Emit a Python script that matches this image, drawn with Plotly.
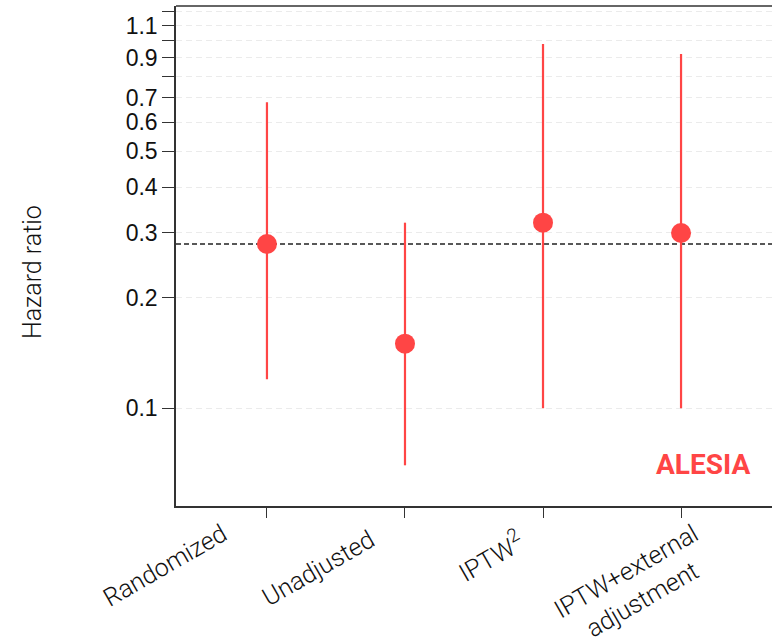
import plotly.graph_objects as go

# Hazard ratio estimates with 95% confidence limits by analysis method
methods = ["Randomized", "Unadjusted", "IPTW2", "IPTW+external adjustment"]
method_labels = [
    "Randomized",
    "Unadjusted",
    "IPTW<sup><span style='font-size:19px'>2</span></sup>",
    "IPTW+external<br>adjustment",
]
hr = [0.28, 0.15, 0.32, 0.30]
ci_low = [0.12, 0.07, 0.10, 0.10]
ci_high = [0.68, 0.32, 0.98, 0.92]
reference_hr = 0.28

tick_vals = [0.1, 0.2, 0.3, 0.4, 0.5, 0.6, 0.7, 0.8, 0.9, 1.0, 1.1, 1.2]
tick_text = ["0.1", "0.2", "0.3", "0.4", "0.5", "0.6", "0.7", "", "0.9", "", "1.1", ""]

# label placement (pixel offsets from each category tick / bottom of plot)
label_shift_x = [-102, -87, -53, -47]
label_shift_y = [-59, -62, -49, -80]

RED = "#ff4545"
W, H = 772, 644
L, R, T, B = 176, 0, 6, 138

fig = go.Figure()

fig.add_trace(go.Scatter(
    x=methods, y=hr, mode="markers",
    marker=dict(size=20, color=RED, line=dict(width=0)),
    error_y=dict(
        type="data", symmetric=False,
        array=[h - e for h, e in zip(ci_high, hr)],
        arrayminus=[e - l for e, l in zip(hr, ci_low)],
        color=RED, thickness=2.2, width=0,
    ),
    showlegend=False,
    hoverinfo="skip",
))

# reference line at the randomized estimate
fig.add_shape(type="line", xref="paper", x0=0, x1=1, yref="y",
              y0=reference_hr, y1=reference_hr,
              line=dict(color="#222222", width=1.3, dash="5px,3px"), layer="below")

# top border of the panel
fig.add_shape(type="line", xref="paper", x0=0, x1=1, yref="paper", y0=1, y1=1,
              line=dict(color="#333333", width=1.5))

for name, lab, dx, dy in zip(methods, method_labels, label_shift_x, label_shift_y):
    fig.add_annotation(
        x=name, xref="x", y=0, yref="paper",
        xshift=dx, yshift=dy,
        text=lab, textangle=-30, showarrow=False,
        xanchor="center", yanchor="middle", align="center",
        font=dict(family="Roboto", size=25, color="#111111", weight=300),
    )

fig.add_annotation(
    x=(32 - L) / (W - L - R), xref="paper",
    y=(H - B - 272) / (H - T - B), yref="paper",
    text="Hazard ratio", textangle=-90, showarrow=False,
    xanchor="center", yanchor="middle",
    font=dict(family="Roboto", size=25, color="#111111", weight=300),
)

fig.add_annotation(
    x=1, xref="paper", xshift=-20, y=(H - B - 464) / (H - T - B), yref="paper",
    text="<b>ALESIA</b>", showarrow=False, xanchor="right", yanchor="middle",
    font=dict(family="Roboto", size=28, color=RED),
)

fig.update_xaxes(
    type="category", range=[-0.659, 3.659],
    showticklabels=False, ticks="outside", ticklen=10, tickwidth=1.2, tickcolor="#333333",
    showline=True, linecolor="#333333", linewidth=1.5,
    showgrid=False, zeroline=False,
)
fig.update_yaxes(
    type="log", range=[-1.2656, 0.0946],
    tickvals=tick_vals, ticktext=tick_text,
    ticks="outside", ticklen=12, tickwidth=1.3, tickcolor="#333333",
    tickfont=dict(family="Liberation Sans", size=23, color="#111111"),
    showline=True, linecolor="#333333", linewidth=1.5,
    showgrid=True, gridcolor="#ebebeb", griddash="6px,4px", gridwidth=1,
    zeroline=False,
)

fig.update_layout(
    width=W, height=H,
    margin=dict(l=L, r=R, t=T, b=B, pad=0),
    paper_bgcolor="white", plot_bgcolor="white",
    showlegend=False,
)

fig.write_html("out.html")
